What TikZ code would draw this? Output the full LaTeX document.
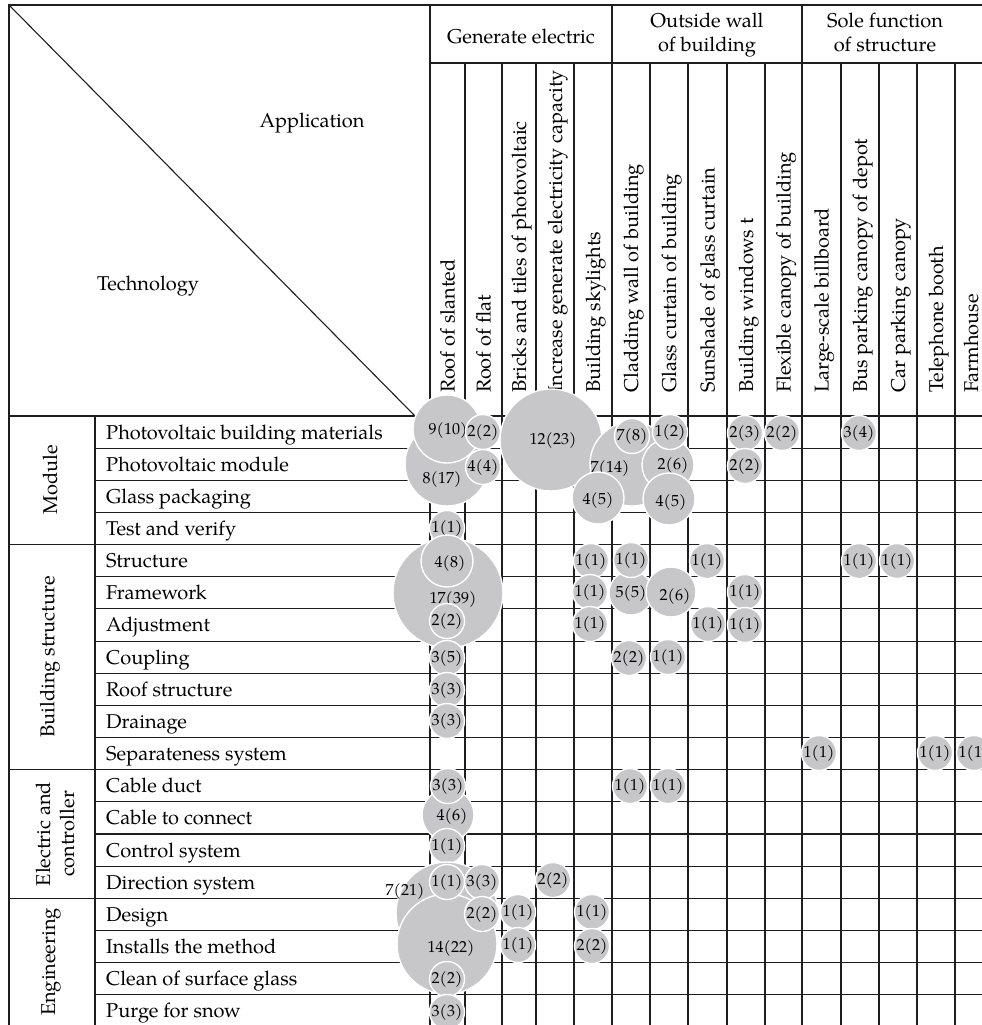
\documentclass[tikz,border=0pt]{standalone}
\usepackage{fontspec}
\setmainfont{TeX Gyre Pagella}
\definecolor{bubgray}{RGB}{199,199,201}
\definecolor{gridline}{RGB}{30,30,30}
\newcommand{\lblfont}{\fontsize{20}{24}\selectfont}
\newcommand{\numfont}{\fontsize{16}{16}\selectfont}
% bubble with its own label position: name, cx, cy, r, tx, ty, text
\newcommand{\bigb}[7]{%
  \node[bubble, minimum size={2*#4pt}] (#1) at (#2,#3) {};
  \node[bubtxt] (#1t) at (#5,#6) {#7};}
% small bubble, label at the centre: name, cx, cy, text
\newcommand{\smb}[4]{%
  \node[bubble, minimum size=35pt] (#1) at (#2,#3) {};
  \node[bubtxt] (#1t) at (#2,#3) {#4};}
\tikzset{
  grid/.style={line width=1.1pt, draw=gridline},
  bubble/.style={circle, fill=bubgray, draw=white, line width=1.4pt, inner sep=0pt},
  bubtxt/.style={inner sep=0pt, font=\numfont},
  rowlbl/.style={anchor=base west, inner sep=0pt, font=\lblfont},
  collbl/.style={anchor=base west, rotate=90, inner sep=0pt, font=\lblfont},
  grplbl/.style={rotate=90, align=center, inner sep=0pt, font=\lblfont},
  hdrlbl/.style={anchor=base, inner sep=0pt, font=\lblfont},
}
\begin{document}
\begin{tikzpicture}[x=1pt, y=-1pt]
\useasboundingbox (0,0) rectangle (982,1025);
\clip (0,0) rectangle (982,1025);
\fill[white] (0,0) rectangle (982,1025);

% ---- frame and header ----
\draw[grid] (1100,5) -- (9,5) -- (9,1100);
\draw[grid] (9,5) -- (415,416);
\draw[grid] (430,63) -- (1100,63);
\draw[grid] (9,416) -- (1100,416);
\draw[grid] (95,416) -- (95,1100);
\foreach \gx in {430,612,802} \draw[grid] (\gx,5) -- (\gx,1100);
\foreach \gx in {465,502,536,574,650,688,727,765,841,879,917,955,993}
  \draw[grid] (\gx,63) -- (\gx,1100);

% ---- row rules: group dividers run full width, others start at the label column ----
\foreach \j in {1,...,19} {
  \pgfmathsetmacro{\ry}{416+32.15*\j}
  \ifnum\j=4 \draw[grid] (9,\ry) -- (1100,\ry);
  \else\ifnum\j=11 \draw[grid] (9,\ry) -- (1100,\ry);
  \else\ifnum\j=15 \draw[grid] (9,\ry) -- (1100,\ry);
  \else \draw[grid] (95,\ry) -- (1100,\ry);
  \fi\fi\fi
}

% ---- corner labels ----
\node[hdrlbl] (app) at (312,127) {Application};
\node[hdrlbl] (tech) at (148,290) {Technology};

% ---- group headings over the columns ----
\node[hdrlbl] (gen) at (521,44) {Generate electric};
\node[hdrlbl] (outa) at (707,28) {Outside wall};
\node[hdrlbl] (outb) at (707,52) {of building};
\node[hdrlbl] (solea) at (885,28) {Sole function};
\node[hdrlbl] (soleb) at (885,52) {of structure};

% ---- column headings ----
\foreach \xa/\xb/\t [count=\i] in {
  430/465/Roof of slanted,
  465/502/Roof of flat,
  502/536/Bricks and tiles of photovoltaic,
  536/574/Increase generate electricity capacity,
  574/612/Building skylights,
  612/650/Cladding wall of building,
  650/688/Glass curtain of building,
  688/727/Sunshade of glass curtain,
  727/765/Building windows t,
  765/802/Flexible canopy of building,
  802/841/Large-scale billboard,
  841/879/Bus parking canopy of depot,
  879/917/Car parking canopy,
  917/955/Telephone booth}
  \node[collbl] (col\i) at ({(\xa+\xb)/2+7},393) {\t};
\node[collbl] (col15) at (978,393) {Farmhouse};

% ---- row headings ----
\foreach \t [count=\i from 0] in {
  Photovoltaic building materials,
  Photovoltaic module,
  Glass packaging,
  Test and verify,
  Structure,
  Framework,
  Adjustment,
  Coupling,
  Roof structure,
  Drainage,
  Separateness system,
  Cable duct,
  Cable to connect,
  Control system,
  Direction system,
  Design,
  Installs the method,
  Clean of surface glass,
  Purge for snow}
  \node[rowlbl] (row\i) at (106,{416+32.15*(\i+0.5)+7}) {\t};

% ---- group headings down the rows ----
\node[grplbl] (gmod) at (50,480) {Module};
\node[grplbl] (gbld) at (50,657) {Building structure};
\node[grplbl] (gele) at (55,834) {Electric and\\controller};
\node[grplbl] (geng) at (51,962) {Engineering};

% ---- bubbles: module ----
\bigb{bA}{447}{464}{42}{442}{479}{8(17)}
\bigb{bB}{447}{429}{34}{448}{430}{9(10)}
\smb{bC}{483}{432}{2(2)}
\smb{bD}{483}{467}{4(4)}
\bigb{bE}{551}{440}{51}{553}{440}{12(23)}
\bigb{bF}{632}{464}{42}{610}{468}{7(14)}
\bigb{bG}{668}{465}{26}{673}{465}{2(6)}
\smb{bH}{632}{436}{7(8)}
\smb{bI}{670}{432}{1(2)}
\bigb{bJ}{598}{498}{26}{598}{500}{4(5)}
\bigb{bK}{669}{499}{26}{671}{502}{4(5)}
\smb{bL}{745}{433}{2(3)}
\smb{bM}{782}{433}{2(2)}
\smb{bN}{859}{433}{3(4)}
\smb{bO}{745}{466}{2(2)}
\smb{bP}{447}{528}{1(1)}

% ---- bubbles: building structure ----
\bigb{cA}{448}{593}{55}{453}{599}{17(39)}
\bigb{cB}{447}{561}{26}{450}{563}{4(8)}
\smb{cC}{447}{621}{2(2)}
\smb{cD}{447}{658}{3(5)}
\smb{cE}{447}{690}{3(3)}
\smb{cF}{447}{721}{3(3)}
\smb{cG}{591}{561}{1(1)}
\smb{cH}{590}{592}{1(1)}
\smb{cI}{590}{624}{1(1)}
\bigb{cJ}{631}{593}{22}{631}{593}{5(5)}
\smb{cK}{631}{560}{1(1)}
\bigb{cL}{671}{592}{25}{675}{596}{2(6)}
\smb{cM}{707}{561}{1(1)}
\smb{cN}{708}{624}{1(1)}
\smb{cO}{745}{592}{1(1)}
\smb{cP}{745}{625}{1(1)}
\smb{cQ}{859}{561}{1(1)}
\smb{cR}{897}{561}{1(1)}
\smb{cS}{629}{658}{2(2)}
\smb{cT}{668}{657}{1(1)}
\smb{cU}{819}{753}{1(1)}
\smb{cV}{935}{753}{1(1)}
\smb{cW}{974}{753}{1(1)}

% ---- bubbles: electric and controller ----
\bigb{dA}{448}{815}{26}{452}{816}{4(6)}
\smb{dB}{448}{786}{3(3)}
\smb{dC}{447}{846}{1(1)}
\smb{dD}{630}{786}{1(1)}
\smb{dE}{668}{786}{1(1)}

% ---- bubbles: direction system and engineering ----
\bigb{eA}{447}{913}{51}{405}{891}{7(21)}
\bigb{eB}{447}{944}{50}{451}{948}{14(22)}
\smb{eC}{447}{882}{1(1)}
\smb{eD}{482}{882}{3(3)}
\smb{eE}{553}{880}{2(2)}
\smb{eF}{482}{914}{2(2)}
\smb{eG}{518}{912}{1(1)}
\smb{eH}{592}{912}{1(1)}
\smb{eI}{518}{945}{1(1)}
\smb{eJ}{592}{946}{2(2)}
\smb{eK}{447}{979}{2(2)}
\smb{eL}{447}{1012}{3(3)}
\end{tikzpicture}
\end{document}
